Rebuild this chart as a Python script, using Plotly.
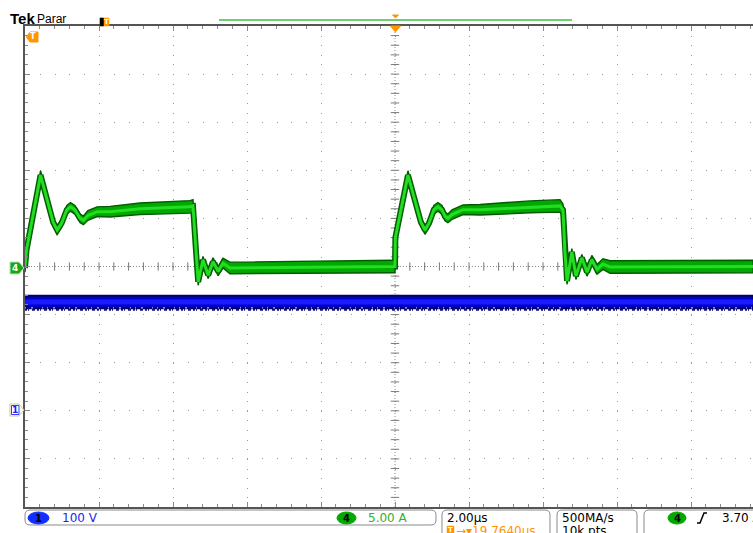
import plotly.graph_objects as go

# ---------------- waveform data ----------------
# CH4: inductor current (5 A/div). Time in µs, centre of the persistence band in A,
# and the half-spread of the band in A.
ch4_t = [-10.0, -9.96, -9.58, -9.24, -9.13, -9.01, -8.87, -8.77, -8.65, -8.51,
         -8.42, -8.30, -8.05, -7.70, -6.89, -5.54, -5.46, -5.38, -5.32, -5.19,
         -5.05, -4.92, -4.78, -4.65, -4.46, -0.02,
         0.0, 0.01, 0.35, 0.70, 0.81, 0.92, 1.05, 1.16, 1.27, 1.35,
         1.43, 1.54, 1.84, 2.30, 2.84, 3.65, 4.46, 4.54, 4.59, 4.65,
         4.78, 4.89, 5.05, 5.19, 5.32, 5.46, 5.62, 5.81, 9.68]
ch4_i = [-0.15, 1.7, 9.5, 4.6, 3.8, 4.5, 5.9, 6.2, 5.9, 5.0,
         4.8, 5.3, 5.7, 5.7, 6.0, 6.2, 6.3, 1.7, -1.6, 0.7,
         -0.9, 0.5, -0.5, 0.35, -0.15, 0.0,
         0.0, 3.0, 9.5, 4.6, 3.8, 4.5, 5.9, 6.2, 5.9, 5.2,
         5.0, 5.4, 5.9, 5.9, 6.0, 6.2, 6.3, 5.9, 1.7, -1.5,
         1.5, -1.0, 0.9, -0.6, 0.7, -0.3, 0.25, -0.05, 0.0]
ch4_spread = [0.45, 0.45, 0.45, 0.45, 0.45, 0.45, 0.45, 0.45, 0.45, 0.45,
              0.45, 0.5, 0.5, 0.55, 0.6, 0.65, 0.65, 0.35, 0.35, 0.35,
              0.35, 0.4, 0.45, 0.5, 0.6, 0.65,
              0.65, 0.45, 0.45, 0.45, 0.45, 0.45, 0.45, 0.45, 0.45, 0.45,
              0.45, 0.5, 0.5, 0.55, 0.6, 0.62, 0.65, 0.6, 0.35, 0.35,
              0.35, 0.35, 0.35, 0.4, 0.45, 0.5, 0.55, 0.65, 0.65]

# CH1: voltage (100 V/div), flat across the record
ch1_t = [-10.0, 9.68]
ch1_v = [226.0, 226.0]
ch1_spread = [13.0, 13.0]

# status-bar readouts
ch1_scale = "100 V"
ch4_scale = "5.00 A"
time_scale = "2.00µs"
trig_pos = "19.7640µs"
sample_rate = "500MA/s"
record_len = "10k pts."
trig_level = "3.70 A"

# ---------------- geometry ----------------
W, H = 753, 533
L, T, R, B = 25, 26, 753, 507          # plot area in pixels
X_RANGE = [-10.0, -10.0 + (R - L) / 74.0 * 2.0]   # 74 px per 2 µs division
FONT = "DejaVu Sans"
ORANGE = "#ff9600"


def pxx(x):
    return (x - L) / (R - L)


def pyy(y):
    return (B - y) / (B - T)


def P(x, y):
    return f"{pxx(x):.5f},{pyy(y):.5f}"


shapes = []
annotations = []


def poly(points, fill, line=None, lw=1.0):
    path = "M " + " L ".join(P(x, y) for x, y in points) + " Z"
    shapes.append(dict(type="path", xref="paper", yref="paper", path=path,
                       fillcolor=fill, line=dict(color=line or fill, width=lw),
                       layer="above"))


def polyline(points, color, lw=1.0):
    path = "M " + " L ".join(P(x, y) for x, y in points)
    shapes.append(dict(type="path", xref="paper", yref="paper", path=path,
                       line=dict(color=color, width=lw), layer="above"))


def rrect(x0, y0, x1, y1, r, fill="white", line="#8a8a8a", lw=1.0):
    path = (f"M {P(x0 + r, y0)} L {P(x1 - r, y0)} Q {P(x1, y0)} {P(x1, y0 + r)} "
            f"L {P(x1, y1 - r)} Q {P(x1, y1)} {P(x1 - r, y1)} "
            f"L {P(x0 + r, y1)} Q {P(x0, y1)} {P(x0, y1 - r)} "
            f"L {P(x0, y0 + r)} Q {P(x0, y0)} {P(x0 + r, y0)} Z")
    shapes.append(dict(type="path", xref="paper", yref="paper", path=path,
                       fillcolor=fill, line=dict(color=line, width=lw), layer="above"))


def rect(x0, y0, x1, y1, fill, line=None, lw=0.5):
    shapes.append(dict(type="rect", xref="paper", yref="paper",
                       x0=pxx(x0), x1=pxx(x1), y0=pyy(y1), y1=pyy(y0),
                       fillcolor=fill, line=dict(color=line or fill, width=lw),
                       layer="above"))


def ellipse(x0, y0, x1, y1, fill):
    shapes.append(dict(type="circle", xref="paper", yref="paper",
                       x0=pxx(x0), x1=pxx(x1), y0=pyy(y1), y1=pyy(y0),
                       fillcolor=fill, line=dict(color=fill, width=1), layer="above"))


def text(x, y, s, color="black", size=12, anchor="left", bold=False, family=FONT):
    annotations.append(dict(xref="paper", yref="paper", x=pxx(x), y=pyy(y),
                            text=f"<b>{s}</b>" if bold else s, showarrow=False,
                            xanchor=anchor, yanchor="middle", borderpad=0,
                            font=dict(color=color, size=size, family=family)))


fig = go.Figure()

# ---------------- graticule extras: dense centre lines with cross ticks ----------------
shapes.append(dict(type="line", xref="x", yref="y", x0=X_RANGE[0], x1=X_RANGE[1], y0=0, y1=0,
                   line=dict(color="#8a8a8a", width=1, dash="1px,2px"), layer="below"))
shapes.append(dict(type="line", xref="x", yref="y", x0=0, x1=0, y0=-25, y1=25,
                   line=dict(color="#8a8a8a", width=1, dash="1px,2px"), layer="below"))
tick_t = [-10 + 0.4 * k for k in range(1, 50)]
tick_i = [-25 + 1.0 * k for k in range(1, 50)]
fig.add_trace(go.Scatter(x=tick_t, y=[0] * len(tick_t), mode="markers", hoverinfo="skip",
                         marker=dict(symbol="line-ns", size=6, line=dict(width=1, color="#7a7a7a"))))
fig.add_trace(go.Scatter(x=[0] * len(tick_i), y=tick_i, mode="markers", hoverinfo="skip",
                         marker=dict(symbol="line-ew", size=6, line=dict(width=1, color="#7a7a7a"))))

# ---------------- CH1 (blue) ----------------
ch1_up = [v + s for v, s in zip(ch1_v, ch1_spread)]
ch1_lo = [v - s for v, s in zip(ch1_v, ch1_spread)]
fig.add_trace(go.Scatter(x=ch1_t + ch1_t[::-1], y=ch1_up + ch1_lo[::-1], yaxis="y2",
                         fill="toself", fillcolor="#0000c8", mode="lines",
                         line=dict(color="#00006a", width=2), hoverinfo="skip"))
fig.add_trace(go.Scatter(x=ch1_t, y=ch1_v, yaxis="y2", mode="lines",
                         line=dict(color="#1a1aff", width=5), hoverinfo="skip"))
fig.add_trace(go.Scatter(x=ch1_t, y=[v - 3 for v in ch1_lo], yaxis="y2", mode="lines",
                         line=dict(color="#10107a", width=2, dash="2px,1px,1px,3px,3px,2px"),
                         hoverinfo="skip"))
fig.add_trace(go.Scatter(x=ch1_t, y=[v + 1 for v in ch1_lo], yaxis="y2", mode="lines",
                         line=dict(color="#dcdcff", width=1, dash="1px,5px,2px,9px,1px,4px"),
                         hoverinfo="skip"))

# ---------------- CH4 (green) ----------------
ch4_up = [i + s for i, s in zip(ch4_i, ch4_spread)]
ch4_lo = [i - s for i, s in zip(ch4_i, ch4_spread)]
# dark halo gives the trace its width on steep edges
fig.add_trace(go.Scatter(x=ch4_t, y=ch4_i, mode="lines",
                         line=dict(color="#006000", width=6), hoverinfo="skip"))
fig.add_trace(go.Scatter(x=ch4_t + ch4_t[::-1], y=ch4_up + ch4_lo[::-1],
                         fill="toself", fillcolor="#00a800", mode="lines",
                         line=dict(color="#005a00", width=1.4), hoverinfo="skip"))
fig.add_trace(go.Scatter(x=ch4_t, y=ch4_i, mode="lines",
                         line=dict(color="#22dd22", width=3), hoverinfo="skip"))

# ---------------- header ----------------
text(9, 19, "Tek", "black", 15, bold=True, family="Liberation Sans")
text(36, 19, "Parar", "black", 12, family="Liberation Sans")
rect(100, 18, 109, 26, ORANGE)
rect(100, 18, 103.5, 26, "black")
text(106.3, 22, "T", "white", 7, anchor="center", bold=True)
polyline([(219, 20), (572, 20)], "#3cbf3c", 1.5)
poly([(392.5, 15), (398.5, 15), (395.5, 18)], ORANGE)
poly([(390.5, 26), (400.5, 26), (395.5, 32)], ORANGE)

# channel / trigger markers on the left edge
poly([(26.5, 37), (30, 32), (38, 32), (38, 42), (30, 42)], ORANGE)
text(33, 37, "T", "white", 8, anchor="center", bold=True)
poly([(10, 262), (19, 262), (24, 268), (19, 274), (10, 274)], "#1aa51a", "#b8e6b8", 1)
text(15, 268, "4", "white", 9, anchor="center", bold=True)
poly([(10, 404), (19, 404), (24, 410), (19, 416), (10, 416)], "white", "#c8c89a", 1)
rect(11.5, 405.5, 19, 414.5, "white", "#3a3aff", 1)
text(15.2, 410, "1", "#2020ff", 9, anchor="center", bold=True)

# ---------------- status bar ----------------
rrect(25, 510, 436, 525, 5)
ellipse(28, 512, 49, 524, "#1030ff")
text(38.5, 518, "1", "black", 10, anchor="center", bold=True)
text(61, 518, ch1_scale, "#2424ee", 12)
ellipse(337, 512, 356, 524, "#00a800")
text(346.5, 518, "4", "black", 10, anchor="center", bold=True)
text(367, 518, ch4_scale, "#30b030", 12)

rrect(442, 510, 550, 548, 5)
text(446, 518, time_scale, "black", 12)
rect(447, 526, 454, 534, ORANGE)
text(450.5, 530, "T", "white", 7, anchor="center", bold=True)
text(455, 531, "→▾" + trig_pos, ORANGE, 12)

rrect(557, 510, 637, 548, 5)
text(561, 518, sample_rate, "black", 12)
text(561, 531, record_len, "black", 12)

rrect(644, 510, 780, 548, 5)
ellipse(668, 512, 686, 524, "#00a800")
text(677, 518, "4", "black", 10, anchor="center", bold=True)
polyline([(697, 523), (700, 523), (704, 513), (707, 513)], "black", 1.5)
text(721, 518, trig_level, "black", 12)

# ---------------- layout / axes ----------------
fig.update_layout(
    width=W, height=H,
    margin=dict(l=L, r=W - R, t=T, b=H - B, pad=0),
    paper_bgcolor="white", plot_bgcolor="white",
    showlegend=False,
    shapes=shapes, annotations=annotations,
    xaxis=dict(range=X_RANGE, showticklabels=False, zeroline=False, fixedrange=True,
               showline=True, linecolor="#555555", linewidth=1.5, mirror="ticks",
               ticks="inside", tick0=-10, dtick=2, ticklen=5, tickcolor="#8a8a8a", tickwidth=1,
               minor=dict(ticks="inside", tick0=-10, dtick=0.4, ticklen=3,
                          tickcolor="#8a8a8a", tickwidth=1, showgrid=False),
               showgrid=True, gridcolor="#9a9a9a", gridwidth=1, griddash="1px,8.62px"),
    yaxis=dict(range=[-25, 25], showticklabels=False, zeroline=False, fixedrange=True,
               showline=True, linecolor="#555555", linewidth=1.5, mirror=False,
               ticks="inside", tick0=-25, dtick=5, ticklen=5, tickcolor="#8a8a8a", tickwidth=1,
               minor=dict(ticks="inside", tick0=-25, dtick=1, ticklen=3,
                          tickcolor="#8a8a8a", tickwidth=1, showgrid=False),
               showgrid=True, gridcolor="#9a9a9a", gridwidth=1, griddash="1px,13.8px"),
    yaxis2=dict(range=[-200, 800], overlaying="y", visible=False, fixedrange=True),
)

fig.write_html("out.html", config={"displayModeBar": False})
